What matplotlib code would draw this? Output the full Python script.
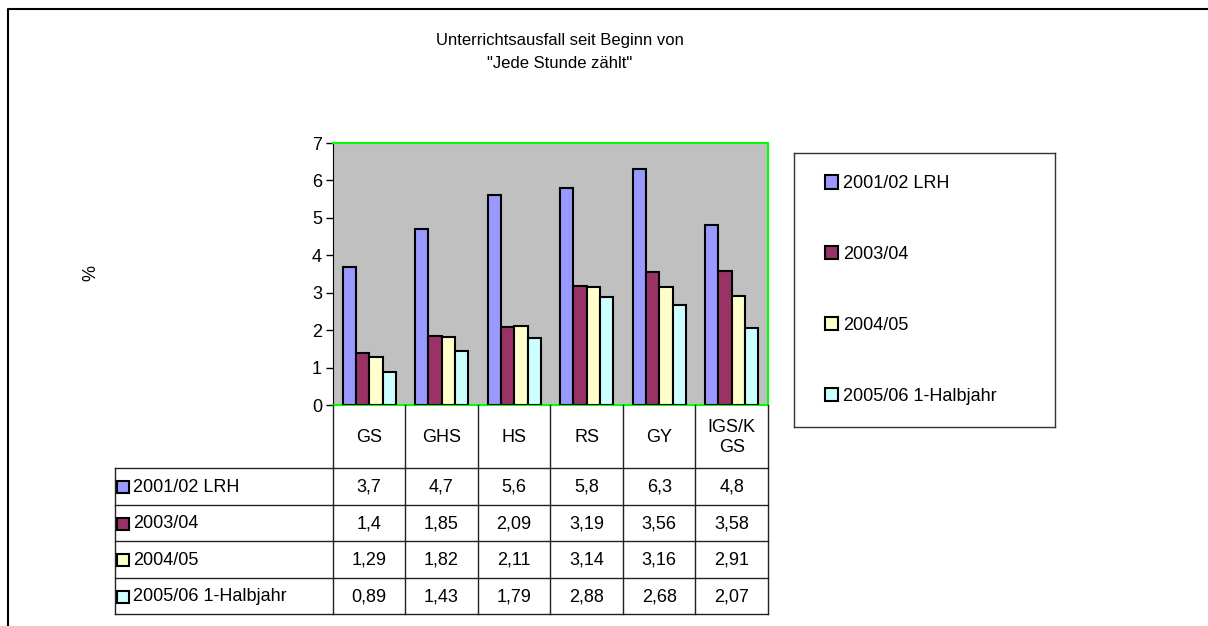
import matplotlib
matplotlib.use("Agg")
import matplotlib.pyplot as plt
from matplotlib.lines import Line2D
from matplotlib.patches import Rectangle, Patch

plt.rcParams["font.family"] = ["Liberation Sans", "DejaVu Sans"]

categories = ["GS", "GHS", "HS", "RS", "GY", "IGS/K\nGS"]
series_names = ["2001/02 LRH", "2003/04", "2004/05", "2005/06 1-Halbjahr"]
v_2001 = [3.7, 4.7, 5.6, 5.8, 6.3, 4.8]
v_2003 = [1.4, 1.85, 2.09, 3.19, 3.56, 3.58]
v_2004 = [1.29, 1.82, 2.11, 3.14, 3.16, 2.91]
v_2005 = [0.89, 1.43, 1.79, 2.88, 2.68, 2.07]
series = [v_2001, v_2003, v_2004, v_2005]
colors = ["#9999FF", "#993366", "#FFFFCC", "#CCFFFF"]
yticks = [0, 1, 2, 3, 4, 5, 6, 7]

W, H = 1208, 626
FS = 13


def box(x0, y0, x1, y1):
    """pixel box (top-left origin) -> figure rect"""
    return [x0 / W, 1 - y1 / H, (x1 - x0) / W, (y1 - y0) / H]


def fmt(v):
    return f"{v:g}".replace(".", ",")


fig = plt.figure(figsize=(W / 100, H / 100), dpi=100)

# outer frame (top + left edge)
fig.add_artist(Line2D([8 / W, 8 / W, 1], [0, 1 - 9 / H, 1 - 9 / H], color="black", lw=1.5))

fig.text(560 / W, 1 - 52 / H, 'Unterrichtsausfall seit Beginn von\n"Jede Stunde zählt"',
         ha="center", va="center", fontsize=12, linespacing=1.65)
fig.text(91 / W, 1 - 273 / H, "%", rotation=90, ha="center", va="center", fontsize=FS)

# bars
ax = fig.add_axes(box(333, 143, 768, 405))
ax.set_facecolor("#C0C0C0")
bw = 0.183
for j, (vals, c) in enumerate(zip(series, colors)):
    xs = [i + (j - 1.5) * bw for i in range(len(categories))]
    ax.bar(xs, vals, width=bw, color=c, edgecolor="black", lw=1.5, zorder=3)
ax.set_xlim(-0.5, len(categories) - 0.5)
ax.set_ylim(0, 7)
ax.set_yticks(yticks)
ax.set_xticks([])
ax.tick_params(axis="y", length=5, width=1, labelsize=FS, pad=3)
for s in ("top", "right", "bottom"):
    ax.spines[s].set_color("#00FF00")
    ax.spines[s].set_linewidth(1.5)
ax.spines["left"].set_color("black")

# data table
n = len(categories)
hdr_h, row_h = 63, 36.5
tab_h = hdr_h + row_h * len(series)
tax = fig.add_axes(box(115, 405, 768, 405 + tab_h))
tax.set_xlim(-3.5, n - 0.5)
tax.set_ylim(tab_h, 0)
tax.axis("off")
lc = "#222222"
for i in range(n + 1):
    tax.plot([i - 0.5, i - 0.5], [0, tab_h], color=lc, lw=1, clip_on=False)
tax.plot([-3.5, -3.5], [hdr_h, tab_h], color=lc, lw=1, clip_on=False)
for r in range(len(series) + 1):
    y = hdr_h + r * row_h
    tax.plot([-3.5, n - 0.5], [y, y], color=lc, lw=1, clip_on=False)
for i, cat in enumerate(categories):
    tax.text(i, hdr_h / 2 + 1, cat, ha="center", va="center", fontsize=FS, linespacing=1.3)
for r, (name, vals, c) in enumerate(zip(series_names, series, colors)):
    yc = hdr_h + (r + 0.5) * row_h + 1
    tax.add_patch(Rectangle((-3.47, yc - 6), 0.16, 12, facecolor=c, edgecolor="black", lw=1.5))
    tax.text(-3.25, yc, name, ha="left", va="center", fontsize=FS)
    for i, v in enumerate(vals):
        tax.text(i, yc, fmt(v), ha="center", va="center", fontsize=FS)

# legend
lax = fig.add_axes(box(794, 153, 1055, 427))
lax.set_xticks([])
lax.set_yticks([])
for s in lax.spines.values():
    s.set_color("#333333")
    s.set_linewidth(1)
handles = [Patch(facecolor=c, edgecolor="black", lw=1.5) for c in colors]
lax.legend(handles, series_names, loc="center left", frameon=False, fontsize=FS,
           handlelength=0.75, handleheight=0.75, handletextpad=0.25,
           labelspacing=2.98, borderaxespad=1.3)

fig.savefig("out.png", dpi=100)
